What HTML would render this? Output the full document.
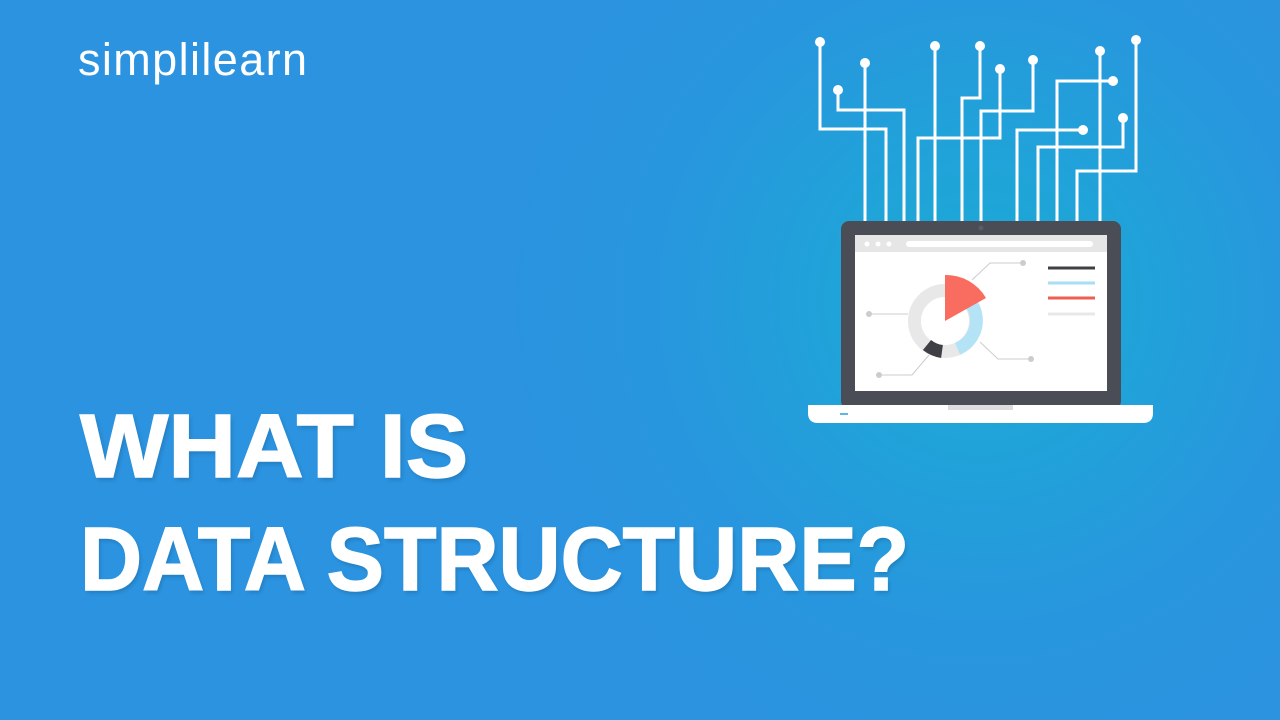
<!DOCTYPE html>
<html><head><meta charset="utf-8"><style>
html,body{margin:0;padding:0}
body{width:1280px;height:720px;overflow:hidden;position:relative;
background:radial-gradient(circle at 980px 300px,#1ca9d6 0,#20a3d9 150px,#2896de 330px,#2b93e0 480px);font-family:"Liberation Sans",sans-serif;color:#fff}
.logo{position:absolute;left:78px;top:30px;font-size:45px;letter-spacing:1.4px;line-height:60px}
.t{position:absolute;left:80px;font-weight:bold;font-size:90px;line-height:1;transform-origin:0 0;white-space:nowrap;-webkit-text-stroke:1.5px #fff;text-shadow:2px 3px 4px rgba(0,0,0,.15)}
</style></head><body>
<div class="logo">simplilearn</div>
<div class="t" style="top:402px;transform:scaleX(1.04)">WHAT IS</div>
<div class="t" style="top:515px;transform:scaleX(0.955)">DATA STRUCTURE?</div>
<svg width="1280" height="720" style="position:absolute;left:0;top:0">
<g stroke="#fff" stroke-width="3" fill="none">
<polyline points="820,42 820,129 886,129 886,222"/>
<polyline points="865,63 865,222"/>
<polyline points="838,90 838,110 904,110 904,222"/>
<polyline points="935,46 935,222"/>
<polyline points="980,46 980,98 962,98 962,222"/>
<polyline points="1000,69 1000,138 918,138 918,222"/>
<polyline points="1033,60 1033,111 981,111 981,222"/>
<polyline points="1083,130 1017,130 1017,222"/>
<polyline points="1100,51 1100,222"/>
<polyline points="1113,81 1057,81 1057,222"/>
<polyline points="1123,118 1123,147 1038,147 1038,222"/>
<polyline points="1136,40 1136,171 1077,171 1077,222"/>
</g>
<g fill="#fff">
<circle cx="820" cy="42" r="5"/><circle cx="865" cy="63" r="5"/><circle cx="838" cy="90" r="5"/>
<circle cx="935" cy="46" r="5"/><circle cx="980" cy="46" r="5"/><circle cx="1000" cy="69" r="5"/>
<circle cx="1033" cy="60" r="5"/><circle cx="1083" cy="130" r="5"/><circle cx="1100" cy="51" r="5"/>
<circle cx="1113" cy="81" r="5"/><circle cx="1123" cy="118" r="5"/><circle cx="1136" cy="40" r="5"/>
</g>
<rect x="841" y="221" width="280" height="188" rx="8" fill="#4a4d55"/>
<circle cx="981" cy="228" r="2.5" fill="#5a5d65"/>
<rect x="855" y="235" width="252" height="156" fill="#fff"/>
<rect x="855" y="235" width="252" height="17" fill="#e6e6e6"/>
<circle cx="867" cy="244" r="2.5" fill="#fff"/><circle cx="878" cy="244" r="2.5" fill="#fff"/><circle cx="889" cy="244" r="2.5" fill="#fff"/>
<rect x="906" y="241" width="187" height="6" rx="3" fill="#fff"/>
<path d="M808,405 H1153 V413 Q1153,423 1143,423 H818 Q808,423 808,413 Z" fill="#fff"/>
<rect x="948" y="405" width="65" height="5" fill="#ddd"/>
<rect x="840" y="413" width="8" height="2" fill="#5ab7e8"/>
<g stroke="#ccc" stroke-width="1" fill="none">
<polyline points="972,280 990,263 1023,263"/>
<polyline points="869,314 908,314"/>
<polyline points="980,342 998,359 1031,359"/>
<polyline points="929,355 912,375 879,375"/>
</g>
<g fill="#ccc"><circle cx="1023" cy="263" r="3"/><circle cx="869" cy="314" r="3"/><circle cx="1031" cy="359" r="3"/><circle cx="879" cy="375" r="3"/></g>
<circle cx="945" cy="321" r="30.5" fill="none" stroke="#e8e8e8" stroke-width="13"/>
<path d="M976.5,321 A30.5,30.5 0 0 1 942,351.3" fill="none" stroke="#b5e3f6" stroke-width="13" transform="rotate(-30 945 321)"/>
<path d="M942,351.5 A30.5,30.5 0 0 1 927,345" fill="none" stroke="#3e4046" stroke-width="13"/>
<path d="M945,321 L945,275 A46,46 0 0 1 986,298 Z" fill="#f86d5f"/>
<g stroke-width="3"><line x1="1048" y1="268" x2="1095" y2="268" stroke="#3e4046"/>
<line x1="1048" y1="283" x2="1095" y2="283" stroke="#a7def3"/>
<line x1="1048" y1="298" x2="1095" y2="298" stroke="#ee5f52"/>
<line x1="1048" y1="314" x2="1095" y2="314" stroke="#e8e8e8"/></g>
</svg>
</body></html>
